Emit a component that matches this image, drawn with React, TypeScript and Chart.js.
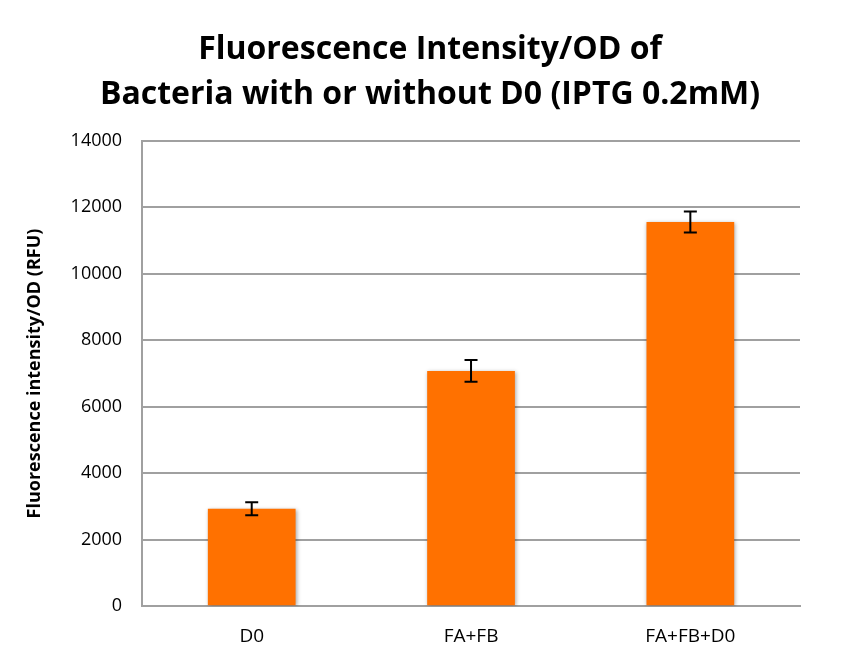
import React, { useEffect, useRef } from "react";
import { Chart, registerables } from "chart.js";

Chart.register(...registerables);

const categories = ["D0", "FA+FB", "FA+FB+D0"];
const values = [2930, 7080, 11560];
const errors = [195, 330, 315];
const titleLines = ["Fluorescence Intensity/OD of", "Bacteria with or without D0 (IPTG 0.2mM)"];
const yAxisTitle = "Fluorescence intensity/OD (RFU)";

const errorBarPlugin = {
  id: "errorBars",
  afterDatasetsDraw(chart: any) {
    const ctx = chart.ctx;
    const meta = chart.getDatasetMeta(0);
    const yScale = chart.scales.y;
    ctx.save();
    ctx.strokeStyle = "#000000";
    ctx.lineWidth = 2;
    meta.data.forEach((bar: any, i: number) => {
      const x = bar.x;
      const top = yScale.getPixelForValue(values[i] + errors[i]);
      const bot = yScale.getPixelForValue(values[i] - errors[i]);
      ctx.beginPath();
      ctx.moveTo(x, top);
      ctx.lineTo(x, bot);
      ctx.moveTo(x - 6.5, top);
      ctx.lineTo(x + 6.5, top);
      ctx.moveTo(x - 6.5, bot);
      ctx.lineTo(x + 6.5, bot);
      ctx.stroke();
    });
    ctx.restore();
  },
};

const shadowPlugin = {
  id: "barShadow",
  beforeDatasetDraw(chart: any) {
    const ctx = chart.ctx;
    ctx.save();
    ctx.shadowColor = "rgba(0,0,0,0.35)";
    ctx.shadowBlur = 4;
    ctx.shadowOffsetX = 1;
    ctx.shadowOffsetY = 1;
  },
  afterDatasetDraw(chart: any) {
    chart.ctx.restore();
  },
};

export default function App() {
  const ref = useRef<HTMLCanvasElement | null>(null);
  useEffect(() => {
    if (!ref.current) return;
    const chart = new Chart(ref.current, {
      type: "bar",
      data: {
        labels: categories,
        datasets: [
          {
            data: values,
            backgroundColor: "#FF7100",
            categoryPercentage: 0.4,
            barPercentage: 1,
          },
        ],
      },
      plugins: [shadowPlugin, errorBarPlugin],
      options: {
        animation: false,
        responsive: false,
        devicePixelRatio: 1,
        layout: { padding: { left: 24, right: 26, top: 27, bottom: -11 } },
        plugins: {
          legend: { display: false },
          tooltip: { enabled: false },
          title: {
            display: true,
            text: titleLines,
            color: "#000000",
            font: { family: "Open Sans", size: 32, weight: "bold", lineHeight: 1.42 },
            padding: { top: 0, bottom: 23 },
          },
        },
        scales: {
          x: {
            grid: { display: false, drawTicks: false },
            border: { color: "#A0A0A0", width: 2 },
            ticks: {
              color: "#000000",
              font: { family: "Open Sans", size: 19 },
              padding: 19,
            },
          },
          y: {
            min: 0,
            max: 14000,
            ticks: {
              stepSize: 2000,
              color: "#000000",
              font: { family: "Open Sans", size: 18 },
              padding: 20,
              callback: (v: any) => String(v),
            },
            grid: { color: "#A0A0A0", lineWidth: 2, drawTicks: false },
            border: { color: "#A0A0A0", width: 2 },
            title: {
              display: true,
              text: yAxisTitle,
              color: "#000000",
              font: { family: "Open Sans", size: 18, weight: "bold" },
              padding: { top: 0, bottom: 5 },
            },
          },
          yRight: {
            position: "right",
            display: true,
            min: 0,
            max: 14000,
            grid: { display: false, drawTicks: false },
            border: { display: false },
            ticks: { display: false },
            afterFit: (s: any) => {
              s.width = 36;
            },
          },
        },
      },
    });
    return () => chart.destroy();
  }, []);
  return (
    <div style={{ position: "fixed", left: 0, top: 0, width: 862, height: 656, background: "#ffffff" }}>
      <canvas ref={ref} width={862} height={656} />
    </div>
  );
}
